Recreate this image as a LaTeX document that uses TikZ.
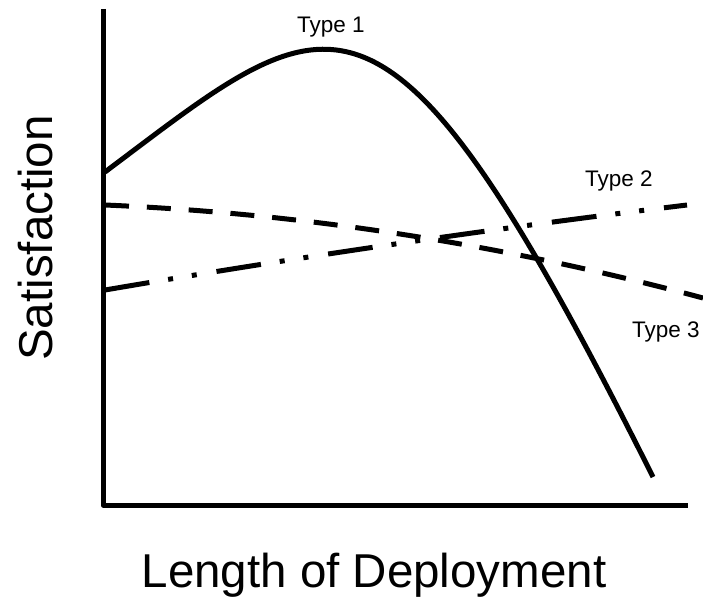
\documentclass[tikz,border=0pt]{standalone}
\usepackage{fontspec}
\setmainfont{Liberation Sans}
\begin{document}
\begin{tikzpicture}[x=1pt,y=-1pt,
  axis/.style={line width=5pt,line join=round},
  curveline/.style={line width=5pt},
  typethree/.style={line width=5pt,dash pattern=on 24pt off 17.9pt},
  typetwo/.style={line width=5pt,dash pattern=on 45pt off 19pt on 5pt off 19pt on 5pt off 20pt},
  smalllabel/.style={inner sep=0pt,anchor=base west,font=\fontsize{22.5}{27}\selectfont},
  biglabel/.style={inner sep=0pt,anchor=base,font=\fontsize{47.5}{57}\selectfont}]
\useasboundingbox (0,0) rectangle (703,599);
% axes
\coordinate (top) at (103,9);
\coordinate (origin) at (103,505);
\coordinate (right) at (688,505);
\draw[axis] (top) -- (origin) -- (right);
% Type 1
\coordinate (t1a) at (105,172);
\coordinate (t1b) at (653,477);
\draw[curveline] (t1a) .. controls (335,-0.5) and (383,-63) .. (t1b);
% Type 3 (dashed)
\coordinate (t3a) at (105,205);
\coordinate (t3b) at (703,298);
\draw[typethree] (t3a) .. controls (304.3,213.5) and (503.7,244.5) .. (t3b);
% Type 2 (dash-dot-dot)
\coordinate (t2a) at (105,290);
\coordinate (t2b) at (687,205);
\draw[typetwo] (t2a) .. controls (299,256.9) and (493,228.5) .. (t2b);
% labels
\node[smalllabel] (l1) at (297,33) {Type 1};
\node[smalllabel] (l2) at (585,186) {Type 2};
\node[smalllabel] (l3) at (632,337) {Type 3};
\node[biglabel,rotate=90] (ylab) at (52,238) {Satisfaction};
\node[biglabel] (xlab) at (374,587) {Length of Deployment};
\end{tikzpicture}
\end{document}
